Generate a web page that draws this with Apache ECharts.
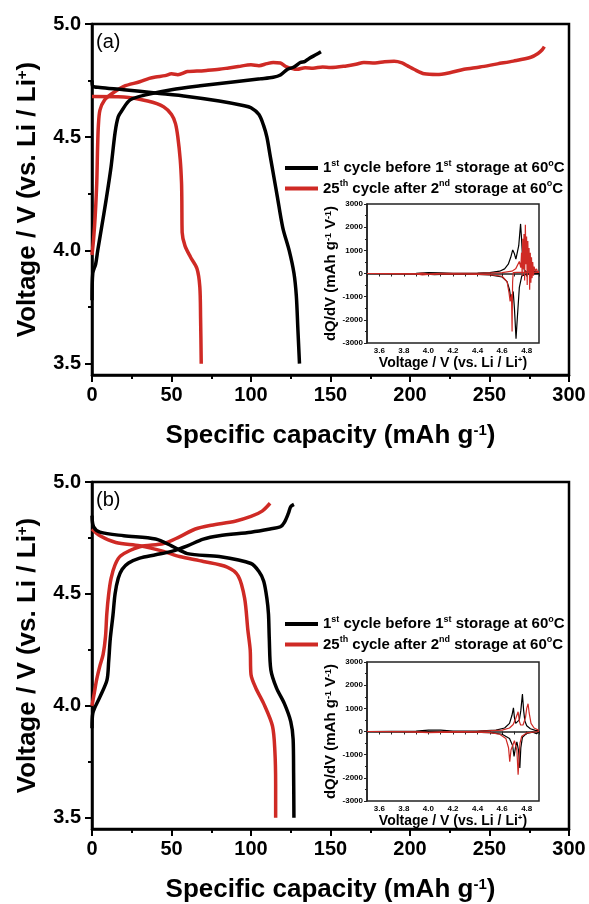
<!DOCTYPE html>
<html>
<head>
<meta charset="utf-8">
<script src="https://cdn.jsdelivr.net/npm/echarts@6/dist/echarts.min.js"></script>
<style>
  html, body { margin: 0; padding: 0; background: #fff; }
  #chart { width: 589px; height: 904px; }
</style>
</head>
<body>
<div id="chart"></div>
<script>
// legend names
const nameFirst = '1st cycle before 1st storage at 60°C';
const name25th = '25th cycle after 2nd storage at 60°C';

// tick values
const voltTicks = [3.5, 4.0, 4.5, 5.0];
const voltMinor = [3.75, 4.25, 4.75];
const insetVoltLabels = [3.6, 3.8, 4.0, 4.2, 4.4, 4.6, 4.8];
const insetVoltTicks = [3.5, 3.6, 3.7, 3.8, 3.9, 4.0, 4.1, 4.2, 4.3, 4.4, 4.5, 4.6, 4.7, 4.8, 4.9];

// (a) voltage profiles [capacity, voltage]
const aBlackCharge = [[0, 3.78], [0.5, 3.9], [2.3, 3.94], [3.6, 4.0], [6, 4.1], [8.8, 4.22], [12, 4.37], [14.5, 4.52], [16.5, 4.59], [19, 4.62], [24, 4.665], [34.5, 4.688], [50, 4.71], [68, 4.727], [90, 4.745], [106, 4.758], [114, 4.765], [118.5, 4.775], [123, 4.8], [127, 4.81], [131, 4.83], [134, 4.835], [137, 4.85], [141, 4.865], [144, 4.877]];
const aBlackDischarge = [[0, 4.75], [0.5, 4.725], [5, 4.72], [20, 4.71], [40, 4.695], [60, 4.68], [80, 4.66], [95, 4.64], [100, 4.63], [105, 4.6], [108, 4.55], [110, 4.5], [112, 4.42], [114.5, 4.32], [116.5, 4.24], [120, 4.1], [124, 4.0], [127, 3.9], [128.5, 3.8], [129.5, 3.65], [130.5, 3.5]];
const aRedCharge = [[0, 3.98], [1, 4.05], [2, 4.15], [3, 4.3], [3.5, 4.45], [4, 4.55], [5, 4.62], [8, 4.665], [12, 4.69], [20, 4.725], [30, 4.745], [36, 4.76], [40, 4.766], [46, 4.772], [50, 4.78], [54, 4.776], [60, 4.79], [66, 4.792], [72, 4.795], [80, 4.8], [86, 4.806], [92, 4.812], [100, 4.82], [105, 4.816], [110, 4.825], [114, 4.83], [118.5, 4.828], [122, 4.812], [129, 4.8], [134, 4.807], [139, 4.805], [145, 4.81], [150, 4.808], [160, 4.815], [166, 4.822], [171, 4.83], [178, 4.828], [184, 4.833], [190, 4.835], [195, 4.828], [198.5, 4.815], [202.5, 4.8], [209, 4.78], [217, 4.777], [225, 4.785], [234, 4.8], [244, 4.81], [255, 4.824], [265, 4.836], [276, 4.853], [280.5, 4.87], [283, 4.885], [284.5, 4.9]];
const aRedDischarge = [[0, 4.68], [20, 4.678], [35, 4.66], [45, 4.635], [50, 4.6], [52.5, 4.56], [54, 4.5], [55.5, 4.4], [56.3, 4.3], [56.5, 4.22], [56.7, 4.08], [58.5, 4.02], [62, 3.97], [66, 3.92], [67.8, 3.84], [68.3, 3.7], [68.7, 3.5]];

// (b) voltage profiles
const bBlackCharge = [[0, 3.9], [0.5, 3.966], [5, 4.04], [9.4, 4.115], [10.5, 4.2], [11.5, 4.3], [13.2, 4.406], [14.5, 4.5], [16.5, 4.57], [19, 4.61], [23, 4.638], [30, 4.66], [40, 4.675], [50, 4.69], [60, 4.715], [70, 4.745], [80, 4.76], [100, 4.776], [112, 4.79], [118.5, 4.8], [121, 4.82], [123.5, 4.86], [125, 4.89], [127, 4.9]];
const bBlackDischarge = [[0, 4.85], [1, 4.8], [5, 4.776], [20, 4.76], [40, 4.745], [50, 4.715], [60, 4.68], [80, 4.667], [100, 4.636], [105, 4.6], [108, 4.557], [110, 4.48], [111, 4.41], [111.5, 4.3], [112.5, 4.16], [116, 4.08], [121, 4.01], [125, 3.93], [126.5, 3.85], [126.8, 3.7], [127, 3.5]];
const bRedCharge = [[0, 4.0], [1.5, 4.06], [3, 4.12], [5, 4.18], [7, 4.23], [8.5, 4.31], [9.3, 4.41], [10.5, 4.5], [12, 4.57], [14.5, 4.63], [18, 4.67], [30, 4.71], [45, 4.725], [55, 4.755], [65, 4.79], [75, 4.807], [90, 4.825], [100, 4.846], [107, 4.87], [112, 4.905]];
const bRedDischarge = [[0, 4.79], [5, 4.76], [15, 4.73], [30, 4.715], [45, 4.69], [55, 4.667], [70, 4.645], [85, 4.62], [92, 4.58], [96, 4.48], [98, 4.34], [99.5, 4.25], [100, 4.14], [103, 4.08], [108, 4.01], [113.5, 3.91], [115, 3.8], [115.5, 3.65], [115.5, 3.5]];

// (a) inset dQ/dV [voltage, dQ/dV]
const aInsetBlackCharge = [[3.5, 0], [3.9, 10], [4.0, 40], [4.1, 30], [4.2, 10], [4.4, 20], [4.5, 40], [4.58, 100], [4.62, 200], [4.65, 400], [4.67, 700], [4.686, 1020], [4.70, 850], [4.712, 620], [4.722, 600], [4.735, 1200], [4.75, 2140], [4.758, 1500], [4.767, 600], [4.78, 150], [4.8, 60], [4.85, 80], [4.9, 60]];
const aInsetBlackDischarge = [[4.9, 0], [4.8, -30], [4.76, -100], [4.74, -600], [4.725, -1800], [4.713, -2810], [4.70, -1500], [4.69, -775], [4.682, -950], [4.673, -1180], [4.66, -700], [4.64, -350], [4.6, -150], [4.5, -60], [4.3, -20], [4.15, -30], [4.05, -50], [3.95, -20], [3.5, 0]];
const aInsetRedCharge = [[3.5, 0], [3.9, -20], [3.95, 20], [4.0, -30], [4.1, 10], [4.4, 10], [4.6, 40], [4.68, 100], [4.71, 200], [4.74, 520], [4.752, 250], [4.758, 900], [4.763, -100], [4.768, 1500], [4.773, 200], [4.778, 1700], [4.783, -300], [4.789, 2100], [4.794, 400], [4.799, 1600], [4.804, -500], [4.809, 1400], [4.814, 100], [4.819, 1100], [4.824, -700], [4.829, 900], [4.834, -400], [4.839, 700], [4.844, -200], [4.849, 500], [4.855, -100], [4.86, 300], [4.87, 100], [4.88, 200], [4.89, 50], [4.9, 100]];
const aInsetRedDischarge = [[4.9, 50], [4.8, 50], [4.72, 50], [4.69, 40], [4.685, -400], [4.681, -2500], [4.676, -900], [4.665, -1200], [4.655, -800], [4.64, -350], [4.6, -120], [4.5, -50], [4.2, -20], [4.0, -40], [3.95, -60], [3.9, -20], [3.5, 0]];

// (b) inset dQ/dV
const bInsetBlackCharge = [[3.5, 0], [3.9, 20], [4.0, 60], [4.1, 60], [4.2, 20], [4.4, 20], [4.55, 60], [4.62, 150], [4.66, 350], [4.68, 700], [4.692, 1020], [4.70, 600], [4.71, 350], [4.725, 320], [4.74, 500], [4.752, 900], [4.765, 1620], [4.775, 900], [4.785, 450], [4.8, 250], [4.83, 120], [4.87, 50], [4.9, 30]];
const bInsetBlackDischarge = [[4.9, 0], [4.88, -100], [4.85, -30], [4.8, -80], [4.765, -250], [4.752, -700], [4.744, -1570], [4.733, -800], [4.72, -450], [4.708, -700], [4.697, -1080], [4.685, -600], [4.66, -300], [4.6, -120], [4.5, -50], [4.2, -10], [4.05, -20], [3.95, -10], [3.5, 0]];
const bInsetRedCharge = [[3.5, 0], [3.9, -10], [4.0, -40], [4.1, -20], [4.4, 10], [4.6, 60], [4.66, 150], [4.69, 300], [4.71, 550], [4.73, 850], [4.74, 450], [4.75, 280], [4.77, 280], [4.79, 600], [4.80, 1000], [4.811, 1200], [4.82, 800], [4.835, 350], [4.86, 150], [4.9, 50]];
const bInsetRedDischarge = [[4.9, 0], [4.8, -60], [4.76, -200], [4.745, -500], [4.73, -1870], [4.72, -800], [4.70, -400], [4.685, -450], [4.672, -800], [4.662, -1300], [4.652, -700], [4.63, -300], [4.58, -120], [4.5, -50], [4.3, -20], [4.0, -50], [3.95, -40], [3.8, -10], [3.5, 0]];

const FONT = '"Liberation Sans", Arial, sans-serif';
const BLACK = '#000000';
const RED = '#cf2a25';

const chart = echarts.init(document.getElementById('chart'));

const bold = (size) => ({ fontFamily: FONT, fontWeight: 'bold', fontSize: size, color: BLACK });

// superscript-style rich text
const legendLabel = {
  [nameFirst]: '{t|1}{s|st}{t| cycle before 1}{s|st}{t| storage at 60}{s|o}{t|C}',
  [name25th]: '{t|25}{s|th}{t| cycle after 2}{s|nd}{t| storage at 60}{s|o}{t|C}'
};

function mainGrid(top) {
  return { left: 92, top: top, width: 477, height: 351, show: true, borderColor: BLACK, borderWidth: 2.5, backgroundColor: 'transparent' };
}
function insetGrid(left, top) {
  return { left: left, top: top, width: 172, height: 139, show: true, borderColor: '#222', borderWidth: 1.5, backgroundColor: 'transparent' };
}

function capAxis(gi) {
  return {
    type: 'value', gridIndex: gi, min: 0, max: 300, interval: 50,
    axisLine: { lineStyle: { color: BLACK, width: 2.5 } },
    axisTick: { length: 7, lineStyle: { width: 2, color: BLACK } },
    minorTick: { show: true, splitNumber: 2, length: 4, lineStyle: { width: 2, color: BLACK } },
    axisLabel: Object.assign(bold(20), { margin: 10 }),
    splitLine: { show: false },
    name: '{t|Specific capacity (mAh g}{s|-1}{t|)}',
    nameLocation: 'middle', nameGap: 48,
    nameTextStyle: { rich: { t: bold(26), s: Object.assign(bold(15), { verticalAlign: 'top', padding: [0, 0, 10, 0] }) } }
  };
}
function voltAxis(gi) {
  return {
    type: 'value', gridIndex: gi, min: 3.45, max: 5.0, position: 'left',
    axisLine: { lineStyle: { color: BLACK, width: 2.5 } },
    axisTick: { length: 7, customValues: voltTicks, lineStyle: { width: 2, color: BLACK } },
    axisLabel: Object.assign(bold(20), { margin: 11, customValues: voltTicks, formatter: v => v.toFixed(1) }),
    splitLine: { show: false },
    name: '{t|Voltage / V (vs. Li / Li}{s|+}{t|)}',
    nameLocation: 'middle', nameGap: 51, nameRotate: 90,
    nameTextStyle: { padding: [0, 0, 0, 0], rich: { t: bold(26), s: Object.assign(bold(15), { verticalAlign: 'top', padding: [0, 0, 10, 0] }) } }
  };
}
function voltMinorAxis(gi) {
  return {
    type: 'value', gridIndex: gi, min: 3.45, max: 5.0, position: 'left',
    axisLine: { show: false },
    axisTick: { length: 4, customValues: voltMinor, lineStyle: { width: 2, color: BLACK } },
    axisLabel: { show: false },
    splitLine: { show: false }
  };
}
function insetXAxis(gi) {
  return {
    type: 'value', gridIndex: gi, min: 3.5, max: 4.9,
    axisLine: { lineStyle: { color: '#222', width: 1.5 } },
    axisTick: { length: 3, customValues: insetVoltTicks, lineStyle: { width: 1, color: '#222' } },
    axisLabel: Object.assign(bold(8), { margin: 4, customValues: insetVoltLabels, formatter: v => v.toFixed(1) }),
    splitLine: { show: false },
    name: '{t|Voltage / V (vs. Li / Li}{s|+}{t|)}',
    nameLocation: 'middle', nameGap: 12,
    nameTextStyle: { rich: { t: bold(14), s: Object.assign(bold(8), { verticalAlign: 'top', padding: [0, 0, 6, 0] }) } }
  };
}
function insetYAxis(gi) {
  return {
    type: 'value', gridIndex: gi, min: -3000, max: 3000, interval: 1000,
    axisLine: { lineStyle: { color: '#222', width: 1.5 } },
    axisTick: { length: 3, lineStyle: { width: 1, color: '#222' } },
    minorTick: { show: true, splitNumber: 2, length: 2, lineStyle: { width: 1, color: '#222' } },
    axisLabel: Object.assign(bold(8), { margin: 4, formatter: v => String(v) }),
    splitLine: { show: false },
    name: '{t|dQ/dV (mAh g}{s|-1}{t| V}{s|-1}{t|)}',
    nameLocation: 'middle', nameGap: 21, nameRotate: 90,
    nameTextStyle: { rich: { t: bold(15), s: Object.assign(bold(9), { verticalAlign: 'top', padding: [0, 0, 6, 0] }) } }
  };
}

function curve(name, data, xi, yi, color, width) {
  return {
    type: 'line', name: name, data: data, xAxisIndex: xi, yAxisIndex: yi,
    showSymbol: false, smooth: 0.3, color: color,
    lineStyle: { color: color, width: width }
  };
}
function spiky(name, data, xi, yi, color) {
  return {
    type: 'line', name: name, data: data, xAxisIndex: xi, yAxisIndex: yi,
    showSymbol: false, smooth: false, color: color,
    lineStyle: { color: color, width: 1.2 }
  };
}

function legendAt(top) {
  return {
    left: 280, top: top, orient: 'vertical', icon: 'rect',
    itemWidth: 33, itemHeight: 4, itemGap: 4,
    data: [nameFirst, name25th],
    formatter: n => legendLabel[n],
    textStyle: {
      rich: {
        t: Object.assign(bold(15), { lineHeight: 18 }),
        s: Object.assign(bold(9), { verticalAlign: 'top', padding: [0, 0, 7, 0] })
      }
    }
  };
}

const option = {
  animation: false,
  backgroundColor: '#fff',
  grid: [mainGrid(24), mainGrid(482), insetGrid(367, 204), insetGrid(367, 662)],
  xAxis: [capAxis(0), capAxis(1), insetXAxis(2), insetXAxis(3)],
  // y axes: 0,1 main volts; 2,3 minor ticks; 4,5 inset
  yAxis: [voltAxis(0), voltAxis(1), voltMinorAxis(0), voltMinorAxis(1), insetYAxis(2), insetYAxis(3)],
  legend: [legendAt(154), legendAt(610)],
  graphic: [
    { type: 'text', left: 96, top: 32, style: { text: '(a)', fontFamily: FONT, fontSize: 20, fill: BLACK } },
    { type: 'text', left: 96, top: 490, style: { text: '(b)', fontFamily: FONT, fontSize: 20, fill: BLACK } }
  ],
  series: [
    curve(name25th, aRedCharge, 0, 0, RED, 3.5),
    curve(name25th, aRedDischarge, 0, 0, RED, 3.5),
    curve(nameFirst, aBlackCharge, 0, 0, BLACK, 3.5),
    curve(nameFirst, aBlackDischarge, 0, 0, BLACK, 3.5),

    curve(name25th, bRedCharge, 1, 1, RED, 3.5),
    curve(name25th, bRedDischarge, 1, 1, RED, 3.5),
    curve(nameFirst, bBlackCharge, 1, 1, BLACK, 3.5),
    curve(nameFirst, bBlackDischarge, 1, 1, BLACK, 3.5),

    spiky(nameFirst, aInsetBlackCharge, 2, 4, BLACK),
    spiky(nameFirst, aInsetBlackDischarge, 2, 4, BLACK),
    spiky(name25th, aInsetRedCharge, 2, 4, RED),
    spiky(name25th, aInsetRedDischarge, 2, 4, RED),

    spiky(nameFirst, bInsetBlackCharge, 3, 5, BLACK),
    spiky(nameFirst, bInsetBlackDischarge, 3, 5, BLACK),
    spiky(name25th, bInsetRedCharge, 3, 5, RED),
    spiky(name25th, bInsetRedDischarge, 3, 5, RED)
  ]
};

chart.setOption(option);
</script>
</body>
</html>
